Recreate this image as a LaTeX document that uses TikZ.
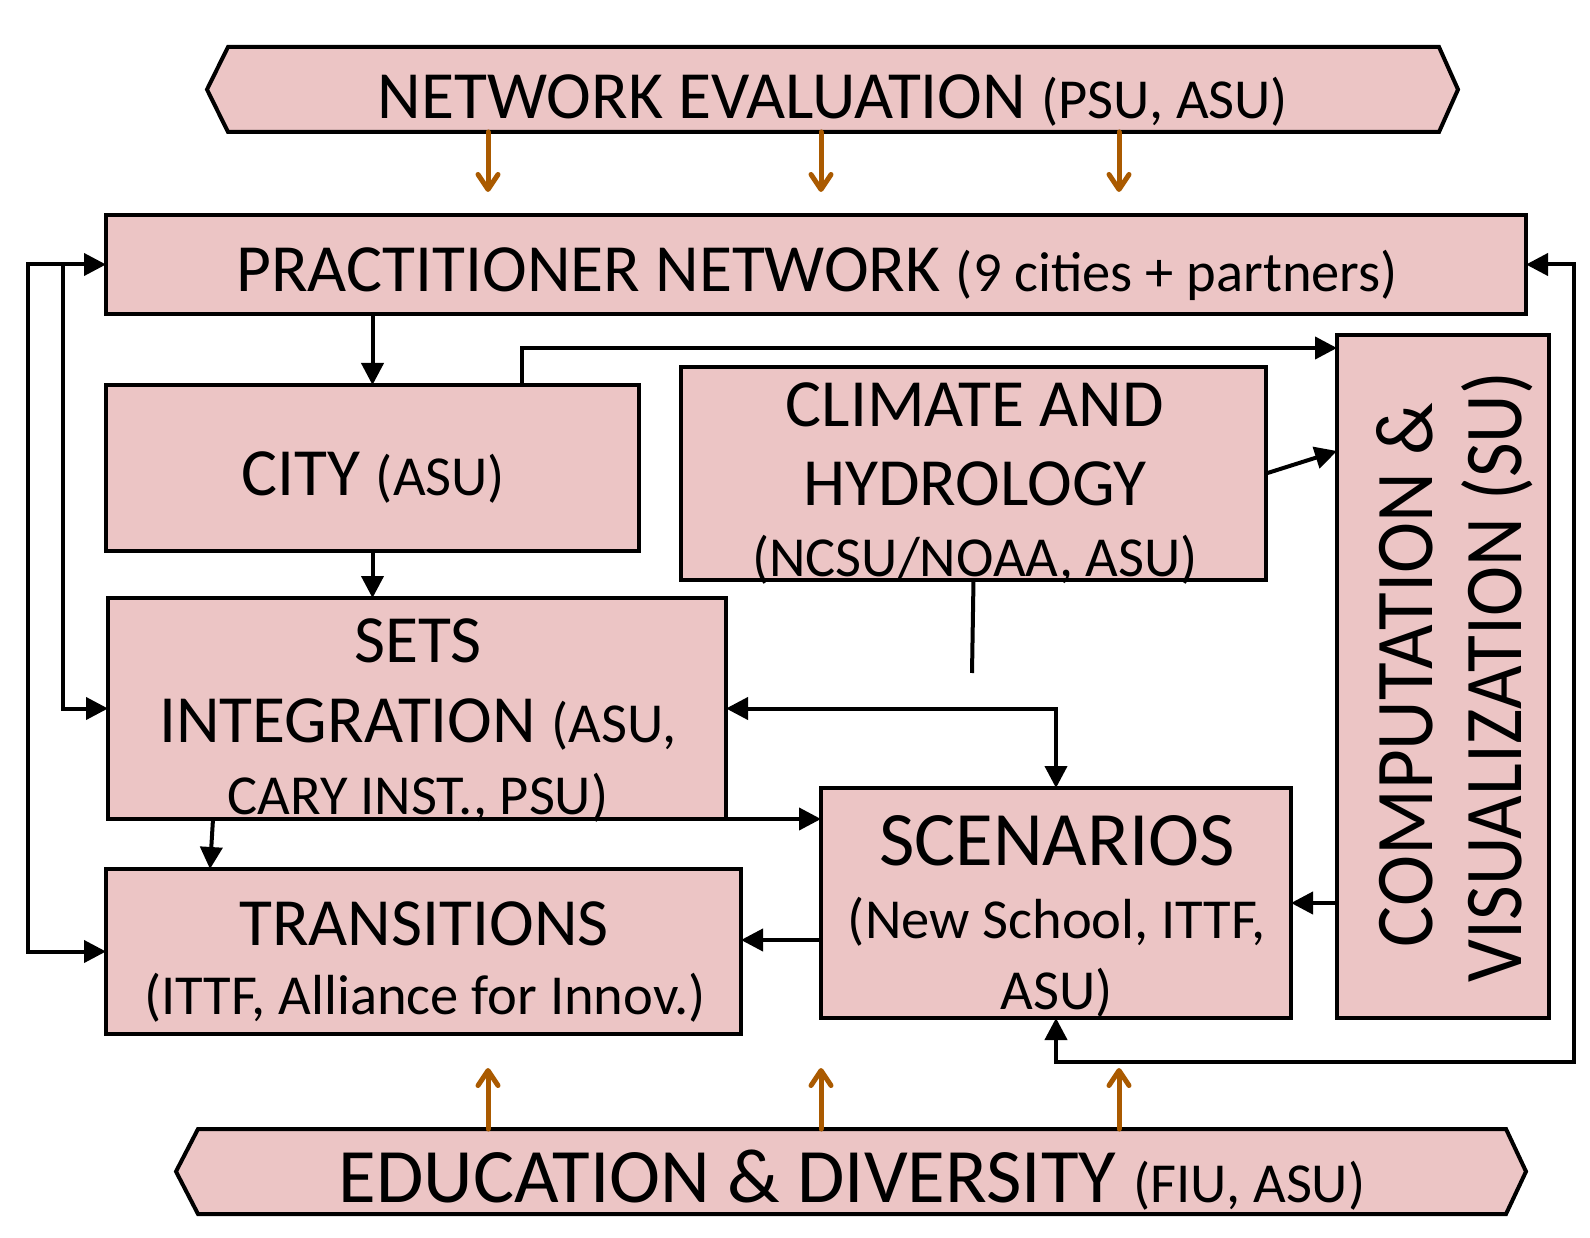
\documentclass[tikz,border=0pt]{standalone}
\usepackage{fontspec}
\usepackage{graphicx}
\setmainfont{Carlito}
\usetikzlibrary{arrows.meta,calc}
\definecolor{pinkc}{RGB}{236,197,197}
\definecolor{brownc}{RGB}{170,90,0}
\newcommand\fbig{\fontsize{67.5}{80}\selectfont}
\newcommand\fsml{\fontsize{56.5}{67}\selectfont}
\newcommand\fhuge{\fontsize{77}{90}\selectfont}
\newcommand\fcomp{\fontsize{82}{98}\selectfont}
\begin{document}
\begin{tikzpicture}[x=1pt,y=-1pt,
  >={Triangle[length=22pt,width=22pt]},
  box/.style={draw, line width=4pt, fill=pinkc, inner sep=0pt, outer sep=0pt, rectangle},
  hexbase/.style={inner sep=0pt, outer sep=0pt, rectangle},
  hexline/.style={draw, fill=pinkc, line width=4pt, line join=miter},
  conn/.style={line width=4pt},
  brarrow/.style={draw=brownc, line width=5pt, line cap=round,
     -{Straight Barb[length=15pt,width=20pt,line cap=round,line join=round]}},
  txt/.style={anchor=base, inner sep=0pt, outer sep=0pt}]
\useasboundingbox (0,0) rectangle (1590,1238);
% hexagons
\node[hexbase, minimum width=1251pt, minimum height=85pt] (ne) at (832.5,89.5) {};
\path[hexline] (ne.west) -- ([xshift=21pt]ne.north west) -- ([xshift=-19pt]ne.north east) -- (ne.east) -- ([xshift=-19pt]ne.south east) -- ([xshift=21pt]ne.south west) -- cycle;
\node[hexbase, minimum width=1350pt, minimum height=85pt] (ed) at (851,1171.5) {};
\path[hexline] (ed.west) -- ([xshift=22pt]ed.north west) -- ([xshift=-20pt]ed.north east) -- (ed.east) -- ([xshift=-20pt]ed.south east) -- ([xshift=22pt]ed.south west) -- cycle;
% boxes
\node[box, minimum width=1420pt, minimum height=99pt] (pn) at (816,264.5) {};
\node[box, minimum width=533pt, minimum height=166pt] (city) at (372.5,468) {};
\node[box, minimum width=585pt, minimum height=213pt] (clim) at (973.5,473.5) {};
\node[box, minimum width=212pt, minimum height=683pt] (comp) at (1443,676.5) {};
\node[box, minimum width=618pt, minimum height=221pt] (sets) at (417,708.5) {};
\node[box, minimum width=635pt, minimum height=165pt] (trans) at (423.5,951.5) {};
\node[box, minimum width=470pt, minimum height=230pt] (scen) at (1056,903) {};
% helper coordinates
\coordinate (lo) at (28,0);
\coordinate (li) at (63,0);
\coordinate (cz) at (522,348);
\coordinate (cl) at (1337,451);
\coordinate (dg) at (972,673);
\coordinate (st1) at (213,819);
\coordinate (st2) at (210,869);
\coordinate (sc) at (0,940);
\coordinate (ro) at (1574,1062);
% connectors
\draw[conn,<->] (trans.west) -- (trans.west -| lo) |- (pn.west);
\draw[conn,->] (pn.west -| li) |- (sets.west);
\draw[conn,->] (pn.south -| city.north) -- (city.north);
\draw[conn,->] (city.south) -- (city.south |- sets.north);
\draw[conn,->] (city.north -| cz) |- (comp.west |- cz);
\draw[conn,->] (clim.east) -- (comp.west |- cl);
\draw[conn] (clim.south) -- (dg);
\draw[conn,<->] (sets.east) -| (scen.north);
\draw[conn,->] (sets.south east) -- (scen.west |- sets.south east);
\draw[conn,->] (sets.south -| st1) -- (trans.north -| st2);
\draw[conn,->] (scen.west |- sc) -- (trans.east |- sc);
\draw[conn,->] (comp.west |- scen.east) -- (scen.east);
\draw[conn,<->] (pn.east) -| (ro) -| (scen.south);
% brown arrows
\foreach \xx/\nm in {488/a,821/b,1119/c}{
  \coordinate (ta\nm) at (\xx,192);
  \draw[brarrow] (ne.south -| ta\nm) -- (ta\nm);
  \coordinate (ba\nm) at (\xx,1068);
  \draw[brarrow] (ed.north -| ba\nm) -- (ba\nm);
}
% texts
\node[txt] (ne-t) at (833,119) {\fbig NETWORK EVALUATION \fsml(PSU, ASU)};
\node[txt] (pn-t) at (817,292) {\fbig PRACTITIONER NETWORK \fsml(9 cities + partners)};
\node[txt] (city-t) at (373.5,495) {\fbig CITY \fsml(ASU)};
\node[txt] (clim-t1) at (975,426) {\fbig CLIMATE AND};
\node[txt] (clim-t2) at (975,505) {\fbig HYDROLOGY};
\node[txt] (clim-t3) at (975,576) {\fsml (NCSU/NOAA, ASU)};
\node[txt] (sets-t1) at (418,662) {\fbig SETS};
\node[txt] (sets-t2) at (418,742) {\fbig INTEGRATION \fsml(ASU,};
\node[txt] (sets-t3) at (418,814) {\fsml CARY INST., PSU)};
\node[txt] (trans-t1) at (424,945) {\fbig TRANSITIONS};
\node[txt] (trans-t2) at (425,1014) {\fsml (ITTF, Alliance for Innov.)};
\node[txt] (scen-t1) at (1057,865) {\fhuge SCENARIOS};
\node[txt] (scen-t2) at (1057,938) {\fsml (New School, ITTF,};
\node[txt] (scen-t3) at (1057,1009) {\fsml ASU)};
\node[txt] (ed-t) at (852,1202) {\fhuge EDUCATION \& DIVERSITY \fsml(FIU, ASU)};
\node[txt, rotate=90] (comp-t1) at (1432,675) {\fcomp\scalebox{0.94}[1]{COMPUTATION \&}};
\node[txt, rotate=90] (comp-t2) at (1521,677) {\fcomp\scalebox{0.92}[1]{VISUALIZATION (SU)}};
\end{tikzpicture}
\end{document}
